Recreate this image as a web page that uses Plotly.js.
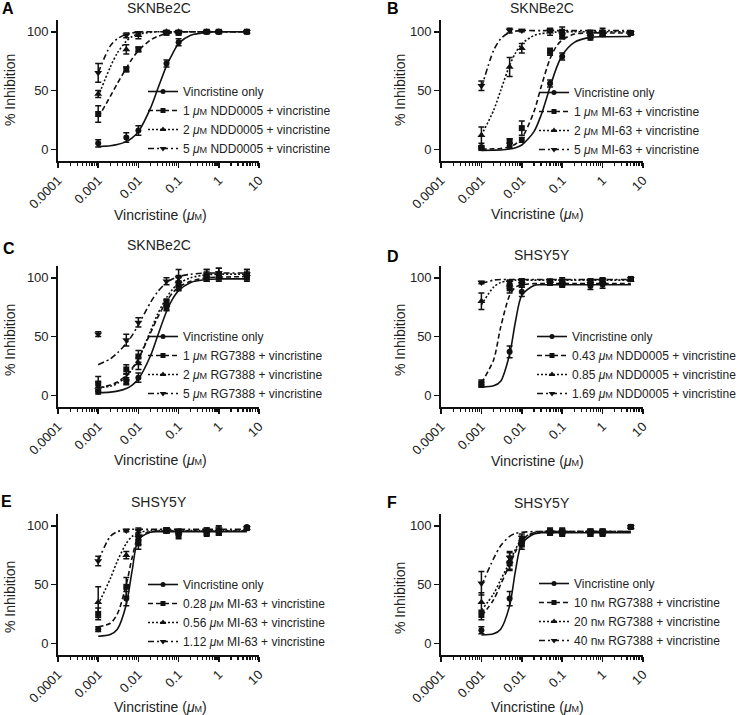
<!DOCTYPE html>
<html>
<head>
<meta charset="utf-8">
<script src="https://cdn.plot.ly/plotly-3.0.1.min.js"></script>
<style>
  html, body { margin: 0; padding: 0; background: #fff; }
  #chart { width: 745px; height: 715px; }
</style>
</head>
<body>
<div id="chart"></div>
<script>
const dose = [0.001, 0.005, 0.01, 0.05, 0.1, 0.5, 1, 5];
const fitDose = [0.001, 0.002, 0.003, 0.005, 0.007, 0.01, 0.02, 0.03, 0.05, 0.07, 0.1, 0.2, 0.5, 1, 5];

const uM = '<i>μ</i><span style="font-size:9px">M</span>';
const nM = 'n<span style="font-size:9px">M</span>';

// panel A - SKNBe2C, NDD0005
const aLabels = ['Vincristine only', '1 ' + uM + ' NDD0005 + vincristine', '2 ' + uM + ' NDD0005 + vincristine', '5 ' + uM + ' NDD0005 + vincristine'];
const aMean = [
  [5, 10, 16, 73, 91, 100, 100, 100],
  [30, 68, 85, 99, 99, 100, 100, 100],
  [47, 85, 97, 100, 100, 100, 100, 100],
  [65, 97, 99, 100, 100, 100, 100, 100]
];
const aErr = [
  [3, 4, 4, 3, 3, 1, 1, 1],
  [7, 2, 2, 1, 1, 1, 1, 1],
  [3, 4, 3, 1, 1, 1, 1, 1],
  [8, 2, 1, 1, 1, 1, 1, 1]
];
const aFit = [
  [2.3, 3, 4, 6.5, 9.6, 15, 35, 51, 71, 81, 90, 97, 99.5, 100, 100],
  [27, 45, 56, 69, 77, 84, 93, 96, 98.5, 99.3, 99.7, 100, 100, 100, 100],
  [45, 70, 82, 92, 96, 98, 99.5, 100, 100, 100, 100, 100, 100, 100, 100],
  [65, 88, 94, 98, 99, 99.7, 100, 100, 100, 100, 100, 100, 100, 100, 100]
];

// panel B - SKNBe2C, MI-63
const bLabels = ['Vincristine only', '1 ' + uM + ' MI-63 + vincristine', '2 ' + uM + ' MI-63 + vincristine', '5 ' + uM + ' MI-63 + vincristine'];
const bMean = [
  [2, 3, 8, 56, 79, 95, 99, 99],
  [1, 7, 18, 83, 96, 98, 99, 99],
  [12, 70, 86, 100, 100, 98, 100, 99],
  [54, 101, 101, 101, 100, 98, 98, 99]
];
const bErr = [
  [1, 2, 2, 3, 3, 2, 2, 1],
  [1, 2, 6, 3, 2, 3, 2, 1],
  [7, 8, 4, 3, 4, 3, 3, 1],
  [4, 2, 1, 1, 2, 3, 2, 1]
];
const bFit = [
  [-1, -0.8, -0.6, 0.2, 1.3, 3.6, 15, 29, 53, 68, 80, 91, 95.2, 95.8, 96],
  [0.1, 0.3, 0.7, 2.2, 4.5, 9.3, 32, 53, 77, 87, 93, 98, 99, 99, 99],
  [12, 33, 50, 71.5, 82, 89.7, 96.8, 98.4, 99.4, 99.7, 99.8, 100, 100, 100, 100],
  [52, 84, 94, 99.5, 100.5, 101, 101, 101, 101, 101, 101, 101, 101, 101, 101]
];

// panel C - SKNBe2C, RG7388
const cLabels = ['Vincristine only', '1 ' + uM + ' RG7388 + vincristine', '2 ' + uM + ' RG7388 + vincristine', '5 ' + uM + ' RG7388 + vincristine'];
const cMean = [
  [3, 12, 15, 75, 93, 100, 101, 101],
  [10, 22, 33, 79, 95, 101, 101, 101],
  [7, 14, 27, 77, 97, 102, 104, 103],
  [52, 47, 62, 97, 100, 103, 104, 103]
];
const cErr = [
  [2, 3, 4, 3, 4, 3, 3, 3],
  [6, 4, 5, 3, 5, 4, 4, 4],
  [4, 4, 5, 4, 5, 5, 4, 4],
  [2, 5, 4, 3, 7, 4, 4, 4]
];
const cFit = [
  [2.2, 2.7, 3.5, 5.7, 8.7, 13.8, 33.6, 50.5, 71.3, 81.6, 89, 96, 98.5, 99, 99],
  [6.4, 8.7, 11.3, 17, 23, 31, 53, 66, 80, 87, 92, 97, 100, 100.5, 101],
  [6.4, 7.7, 10, 16, 22, 31, 54.5, 69, 83, 90, 95, 100, 102.5, 103, 103],
  [26, 31, 36, 44, 51, 60, 79, 88, 96, 99, 101, 103, 104, 104, 104]
];

// panel D - SHSY5Y, NDD0005
const dLabels = ['Vincristine only', '0.43 ' + uM + ' NDD0005 + vincristine', '0.85 ' + uM + ' NDD0005 + vincristine', '1.69 ' + uM + ' NDD0005 + vincristine'];
const dMean = [
  [9, 37, 88, 96, 94, 93, 94, 99],
  [10, 91, 95, 96, 95, 96, 97, 99],
  [80, 94, 97, 97, 97, 97, 97, 98],
  [96, 96, 97, 96, 97, 97, 98, 99]
];
const dErr = [
  [2, 5, 4, 2, 2, 3, 3, 1],
  [3, 4, 3, 2, 2, 2, 2, 1],
  [7, 3, 2, 2, 2, 2, 2, 1],
  [1, 2, 2, 2, 3, 2, 2, 1]
];
const dFit = [
  [7, 8, 12, 35, 63, 85, 93.5, 94, 94, 94, 94, 94, 94, 94, 94],
  [10.3, 30, 58, 85, 92, 94, 95, 95, 95, 95, 95, 95, 95, 95, 95],
  [77, 92, 96, 97.5, 98, 98, 98, 98, 98, 98, 98, 98, 98, 98, 98],
  [95, 98, 98.5, 98.5, 98.5, 98.5, 98.5, 98.5, 98.5, 98.5, 98.5, 98.5, 98.5, 98.5, 98.5]
];

// panel E - SHSY5Y, MI-63
const eLabels = ['Vincristine only', '0.28 ' + uM + ' MI-63 + vincristine', '0.56 ' + uM + ' MI-63 + vincristine', '1.12 ' + uM + ' MI-63 + vincristine'];
const eMean = [
  [12, 38, 88, 96, 94, 93, 94, 99],
  [25, 48, 85, 96, 92, 94, 95, 98],
  [35, 75, 92, 96, 95, 96, 96, 98],
  [70, 96, 96, 96, 95, 96, 97, 98]
];
const eErr = [
  [2, 6, 4, 2, 2, 2, 2, 1],
  [5, 8, 5, 2, 3, 2, 2, 1],
  [13, 3, 4, 2, 2, 2, 4, 1],
  [4, 1, 2, 2, 2, 2, 2, 1]
];
const eFit = [
  [6, 7.5, 12, 33, 62, 88, 94.5, 95, 95, 95, 95, 95, 95, 95, 95],
  [14, 17, 25, 50, 73, 90, 95, 95.5, 95.5, 95.5, 95.5, 95.5, 95.5, 95.5, 95.5],
  [33, 55, 70, 85, 91, 94, 96, 96, 96, 96, 96, 96, 96, 96, 96],
  [70, 91, 95, 96.5, 97, 97, 97, 97, 97, 97, 97, 97, 97, 97, 97]
];

// panel F - SHSY5Y, RG7388
const fLabels = ['Vincristine only', '10 ' + nM + ' RG7388 + vincristine', '20 ' + nM + ' RG7388 + vincristine', '40 ' + nM + ' RG7388 + vincristine'];
const fMean = [
  [11, 38, 86, 94, 93, 93, 94, 99],
  [24, 68, 84, 95, 95, 94, 94, 99],
  [35, 70, 88, 95, 95, 95, 95, 99],
  [51, 73, 90, 95, 95, 95, 95, 99]
];
const fErr = [
  [3, 6, 3, 2, 2, 2, 2, 1],
  [4, 6, 4, 3, 3, 3, 3, 1],
  [8, 7, 3, 2, 2, 2, 2, 1],
  [10, 5, 3, 2, 2, 2, 2, 1]
];
const fFit = [
  [7, 8, 12, 32, 62, 85, 93, 94, 94, 94, 94, 94, 94, 94, 94],
  [23, 37, 50, 67, 78, 88, 94, 95, 95, 95, 95, 95, 95, 95, 95],
  [28, 42, 54, 69, 80, 89, 94, 95, 95, 95, 95, 95, 95, 95, 95],
  [49, 72, 83, 91, 93.5, 94.5, 95, 95, 95, 95, 95, 95, 95, 95, 95]
];

const panels = [
  {letter: 'A', title: 'SKNBe2C', labels: aLabels, mean: aMean, err: aErr, fit: aFit},
  {letter: 'B', title: 'SKNBe2C', labels: bLabels, mean: bMean, err: bErr, fit: bFit},
  {letter: 'C', title: 'SKNBe2C', labels: cLabels, mean: cMean, err: cErr, fit: cFit},
  {letter: 'D', title: 'SHSY5Y', labels: dLabels, mean: dMean, err: dErr, fit: dFit},
  {letter: 'E', title: 'SHSY5Y', labels: eLabels, mean: eMean, err: eErr, fit: eFit},
  {letter: 'F', title: 'SHSY5Y', labels: fLabels, mean: fMean, err: fErr, fit: fFit}
];

// ---- styling / placement ----
const W = 745, H = 715;
const px = v => v / W;
const py = v => 1 - v / H;
const FONT = 'Liberation Sans, Arial, sans-serif';

const symbols = ['circle', 'square', 'triangle-up', 'triangle-down'];
const msize = [6, 6, 7, 7];
const dashes = ['solid', '5px,3px', '2px,2px', '6px,3px,2px,3px'];

const colX = [[58, 259], [441, 643]];
const rowY = [[20, 161], [266, 407], [514, 655]];
const titleY = [8, 8, 245, 255, 502, 503];
const letterPos = [[8, 8], [393, 9], [9, 249], [393, 256], [6, 501], [392, 502]];
const yTitle = [[10, 90], [400, 90], [10, 340], [400, 340], [10, 597], [400, 598]];
const xTitleY = [215, 214, 460, 461, 707, 707];
const xTitleX = [160, 537];
const legendPos = [[143, 120], [534, 121], [143, 365], [532, 365], [143, 613], [534, 612]];

const traces = [];
const layout = {
  width: W,
  height: H,
  margin: {l: 0, r: 0, t: 0, b: 0},
  paper_bgcolor: '#fff',
  plot_bgcolor: 'rgba(0,0,0,0)',
  font: {family: FONT, color: '#111', size: 13},
  annotations: []
};

panels.forEach((p, i) => {
  const sfx = i === 0 ? '' : String(i + 1);
  const xa = 'x' + sfx, ya = 'y' + sfx;
  const lg = 'legend' + sfx;
  const col = i % 2, row = Math.floor(i / 2);

  for (let s = 0; s < 4; s++) {
    // fitted curve
    traces.push({
      type: 'scatter', mode: 'lines', xaxis: xa, yaxis: ya,
      x: fitDose, y: p.fit[s],
      line: {color: '#111', width: 1.6, dash: dashes[s], shape: 'spline', smoothing: 0.8},
      showlegend: false, hoverinfo: 'skip'
    });
    // mean +/- sem points
    traces.push({
      type: 'scatter', mode: 'markers', xaxis: xa, yaxis: ya,
      x: dose, y: p.mean[s],
      marker: {symbol: symbols[s], size: msize[s], color: '#111'},
      error_y: {type: 'data', array: p.err[s], color: '#111', thickness: 1.5, width: 3},
      showlegend: false
    });
  }
  // legend entries
  for (let s = 0; s < 4; s++) {
    traces.push({
      type: 'scatter', mode: 'lines+markers', xaxis: xa, yaxis: ya,
      x: [null], y: [null], name: p.labels[s], legend: lg,
      marker: {symbol: symbols[s], size: msize[s] - 1, color: '#111'},
      line: {color: '#111', width: 1.6, dash: dashes[s]}
    });
  }

  layout['xaxis' + sfx] = {
    type: 'log', range: [-4, 1], anchor: ya,
    domain: [px(colX[col][0]), px(colX[col][1])],
    showline: true, linecolor: '#111', linewidth: 1.8,
    showgrid: false, zeroline: false,
    tickmode: 'linear', tick0: 0, dtick: 1, exponentformat: 'none',
    ticks: 'outside', ticklen: 5, tickwidth: 1.5, tickcolor: '#111',
    tickangle: -45, tickfont: {size: 13, family: FONT, color: '#222'},
    minor: {dtick: 'D1', ticks: 'outside', ticklen: 3.5, tickwidth: 1.2, tickcolor: '#111', showgrid: false}
  };
  layout['yaxis' + sfx] = {
    range: [-10, 110], anchor: xa,
    domain: [py(rowY[row][1]), py(rowY[row][0])],
    showline: true, linecolor: '#111', linewidth: 1.8,
    showgrid: false, zeroline: false,
    tickmode: 'array', tickvals: [0, 50, 100],
    ticks: 'outside', ticklen: 5, tickwidth: 1.5, tickcolor: '#111',
    tickfont: {size: 13, family: FONT, color: '#222'}
  };
  layout[lg] = {
    x: px(legendPos[i][0]), y: py(legendPos[i][1]),
    xref: 'paper', yref: 'paper', xanchor: 'left', yanchor: 'middle',
    bgcolor: 'rgba(0,0,0,0)', borderwidth: 0,
    font: {size: 12, family: FONT, color: '#222'},
    tracegroupgap: 0, itemwidth: 30, traceorder: 'normal'
  };

  const ann = layout.annotations;
  ann.push({
    text: '<b>' + p.letter + '</b>', xref: 'paper', yref: 'paper',
    x: px(letterPos[i][0]), y: py(letterPos[i][1]), xanchor: 'center', yanchor: 'middle',
    showarrow: false, font: {size: 16, family: FONT, color: '#000'}
  });
  ann.push({
    text: p.title, xref: 'paper', yref: 'paper',
    x: px((colX[col][0] + colX[col][1]) / 2), y: py(titleY[i]), xanchor: 'center', yanchor: 'middle',
    showarrow: false, font: {size: 14, family: FONT, color: '#222'}
  });
  ann.push({
    text: '% Inhibition', xref: 'paper', yref: 'paper', textangle: -90,
    x: px(yTitle[i][0]), y: py(yTitle[i][1]), xanchor: 'center', yanchor: 'middle',
    showarrow: false, font: {size: 14, family: FONT, color: '#222'}
  });
  ann.push({
    text: 'Vincristine (' + uM + ')', xref: 'paper', yref: 'paper',
    x: px(xTitleX[col]), y: py(xTitleY[i]), xanchor: 'center', yanchor: 'middle',
    showarrow: false, font: {size: 14, family: FONT, color: '#222'}
  });
});

Plotly.newPlot('chart', traces, layout, {displayModeBar: false, staticPlot: true});
</script>
</body>
</html>
